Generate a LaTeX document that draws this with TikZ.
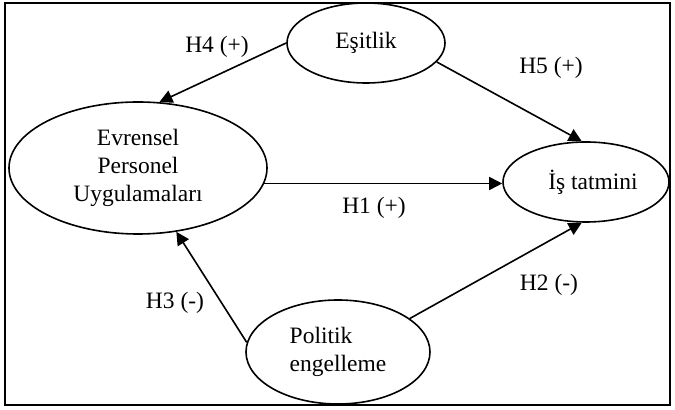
\documentclass[tikz,border=0pt]{standalone}
\usepackage{fontspec}
\setmainfont{Liberation Serif}
\usetikzlibrary{shapes.geometric,arrows.meta}

\begin{document}
\begin{tikzpicture}[x=0.5pt,y=-0.5pt,
  var/.style={ellipse,draw,line width=0.8pt,inner sep=0pt,font=\fontsize{11.75}{14}\selectfont},
  hyp/.style={font=\fontsize{11.75}{14}\selectfont},
  arr/.style={line width=0.8pt,-{Triangle[length=6.5pt,width=6.5pt]}}]

\useasboundingbox (0,0) rectangle (675,410);
\draw [line width=1pt] (5,3) rectangle (670,405);

\node [var,minimum width=129pt,minimum height=66pt,align=center] (evr) at (138,168) {Evrensel\\Personel\\Uygulamaları};
\node [var,minimum width=79pt,minimum height=40pt] (esit) at (366,43) {Eşitlik};
\node [var,minimum width=83pt,minimum height=40pt] (is) at (586,182) {\hspace{7pt}İş tatmini};
\node [var,minimum width=92pt,minimum height=52pt,align=left] (pol) at (338,352) {Politik\\engelleme};

\draw [arr] (esit.west) -- (evr.72);
\draw [arr] (esit.-15) -- (is.96);
\draw [arr] (evr.-7) -- (evr.-7 -| is.west);
\draw [arr] (pol.25) -- (is.264);
\draw [arr] (pol.174) -- (evr.-59);

\node [hyp] (h4) at (217,47) {H4 (+)};
\node [hyp] (h5) at (551,68) {H5 (+)};
\node [hyp] (h1) at (374,208) {H1 (+)};
\node [hyp] (h2) at (549,285) {H2 (-)};
\node [hyp] (h3) at (175,303) {H3 (-)};

\end{tikzpicture}
\end{document}
